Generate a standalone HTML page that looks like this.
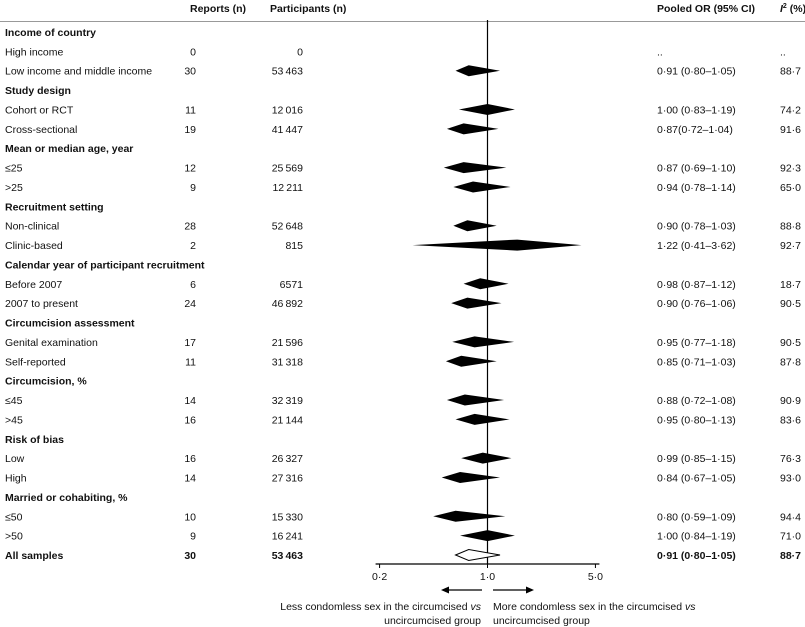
<!DOCTYPE html>
<html><head><meta charset="utf-8">
<style>
html,body{margin:0;padding:0;background:#fff;}
svg{display:block;font-family:"Liberation Sans",sans-serif;}
text{font-size:10.5px;fill:#111;}
.b{font-weight:bold;}
</style></head>
<body>
<svg id="chart" width="805" height="627" viewBox="0 0 805 627"></svg>
<script>
const labels = ["Income of country","High income","Low income and middle income","Study design","Cohort or RCT","Cross-sectional","Mean or median age, year","\u226425",">25","Recruitment setting","Non-clinical","Clinic-based","Calendar year of participant recruitment","Before 2007","2007 to present","Circumcision assessment","Genital examination","Self-reported","Circumcision, %","\u226445",">45","Risk of bias","Low","High","Married or cohabiting, %","\u226450",">50","All samples"];
const isHeading = [1,0,0,1,0,0,1,0,0,1,0,0,1,0,0,1,0,0,1,0,0,1,0,0,1,0,0,2];
const reports = ["","0","30","","11","19","","12","9","","28","2","","6","24","","17","11","","14","16","","16","14","","10","9","30"];
const participants = ["","0","53\u2009463","","12\u2009016","41\u2009447","","25\u2009569","12\u2009211","","52\u2009648","815","","6571","46\u2009892","","21\u2009596","31\u2009318","","32\u2009319","21\u2009144","","26\u2009327","27\u2009316","","15\u2009330","16\u2009241","53\u2009463"];
const orEst = [null,null,0.91,null,1.00,0.87,null,0.87,0.94,null,0.90,1.22,null,0.98,0.90,null,0.95,0.85,null,0.88,0.95,null,0.99,0.84,null,0.80,1.00,0.91];
const orLo  = [null,null,0.80,null,0.83,0.72,null,0.69,0.78,null,0.78,0.41,null,0.87,0.76,null,0.77,0.71,null,0.72,0.80,null,0.85,0.67,null,0.59,0.84,0.80];
const orHi  = [null,null,1.05,null,1.19,1.04,null,1.10,1.14,null,1.03,3.62,null,1.12,1.06,null,1.18,1.03,null,1.08,1.13,null,1.15,1.05,null,1.09,1.19,1.05];
const orText = ["","..","0\u00b791 (0\u00b780\u20131\u00b705)","","1\u00b700 (0\u00b783\u20131\u00b719)","0\u00b787(0\u00b772\u20131\u00b704)","","0\u00b787 (0\u00b769\u20131\u00b710)","0\u00b794 (0\u00b778\u20131\u00b714)","","0\u00b790 (0\u00b778\u20131\u00b703)","1\u00b722 (0\u00b741\u20133\u00b762)","","0\u00b798 (0\u00b787\u20131\u00b712)","0\u00b790 (0\u00b776\u20131\u00b706)","","0\u00b795 (0\u00b777\u20131\u00b718)","0\u00b785 (0\u00b771\u20131\u00b703)","","0\u00b788 (0\u00b772\u20131\u00b708)","0\u00b795 (0\u00b780\u20131\u00b713)","","0\u00b799 (0\u00b785\u20131\u00b715)","0\u00b784 (0\u00b767\u20131\u00b705)","","0\u00b780 (0\u00b759\u20131\u00b709)","1\u00b700 (0\u00b784\u20131\u00b719)","0\u00b791 (0\u00b780\u20131\u00b705)"];
const i2Text = ["","..","88\u00b77","","74\u00b72","91\u00b76","","92\u00b73","65\u00b70","","88\u00b78","92\u00b77","","18\u00b77","90\u00b75","","90\u00b75","87\u00b78","","90\u00b79","83\u00b76","","76\u00b73","93\u00b70","","94\u00b74","71\u00b70","88\u00b77"];
const tickVals = [0.2,1.0,5.0];
const tickLabels = ["0\u00b72","1\u00b70","5\u00b70"];

const svg = document.getElementById('chart');
const NS = 'http://www.w3.org/2000/svg';
function mk(tag, attrs, txt){const e=document.createElementNS(NS,tag);for(const k in attrs)e.setAttribute(k,attrs[k]);if(txt!==undefined)e.textContent=txt;svg.appendChild(e);return e;}
const X0 = 487.5, K = 80.5, P = 0.616;
function xScale(v){const l=Math.log(v);return X0+Math.sign(l)*K*Math.pow(Math.abs(l),P);}
function yRow(i){return 32+i*19.37;}

let e;
e=mk('text',{x:190,y:12,class:'b'},'Reports (n)');


e=mk('text',{x:270,y:12,class:'b'},'Participants (n)');


e=mk('text',{x:657,y:12,class:'b'},'Pooled OR (95% CI)');


e=mk('text',{x:780,y:12,class:'b'});
e.innerHTML='<tspan font-style="italic">I</tspan><tspan dy="-4" font-size="7">2</tspan><tspan dy="4"> (%)</tspan>';


e=mk('line',{x1:0,y1:21.5,x2:805,y2:21.5,stroke:'#999','stroke-width':1});



e=mk('line',{x1:X0,y1:20,x2:X0,y2:564,stroke:'#000','stroke-width':1.2});



for(let i=0;i<labels.length;i++){
  const y=yRow(i), bl=y+4;
  const bold = isHeading[i]>0;
  e=mk('text',{x:5,y:bl,class:bold?'b':''},labels[i]);
  
  
  if(reports[i]){e=mk('text',{x:196,y:bl,'text-anchor':'end',class:isHeading[i]==2?'b':''},reports[i]);
  
  }
  if(participants[i]){e=mk('text',{x:303,y:bl,'text-anchor':'end',class:isHeading[i]==2?'b':''},participants[i]);
  
  }
  if(orText[i]){e=mk('text',{x:657,y:bl,class:isHeading[i]==2?'b':''},orText[i]);
  
  }
  if(i2Text[i]){e=mk('text',{x:780,y:bl,class:isHeading[i]==2?'b':''},i2Text[i]);
  
  }
  if(orEst[i]!==null){
    const xc=xScale(orEst[i]), xl=xScale(orLo[i]), xr=xScale(orHi[i]);
    const pts=`${xl},${y} ${xc},${y-5.5} ${xr},${y} ${xc},${y+5.5}`;
    if(isHeading[i]==2){e=mk('polygon',{points:pts,fill:'#fff',stroke:'#000','stroke-width':1});}
    else{e=mk('polygon',{points:pts,fill:'#000'});}
    
    
  }
}

e=mk('line',{x1:xScale(tickVals[0])-4,y1:564,x2:xScale(tickVals[2])+4,y2:564,stroke:'#000','stroke-width':1.2});


for(let t=0;t<tickVals.length;t++){
  const x=xScale(tickVals[t]);
  e=mk('line',{x1:x,y1:564,x2:x,y2:568,stroke:'#000','stroke-width':1});
  
  
  e=mk('text',{x:x,y:580,'text-anchor':'middle','font-size':'10'},tickLabels[t]);
  
  
}
e=mk('line',{x1:482,y1:590,x2:448,y2:590,stroke:'#000','stroke-width':1.3});


e=mk('polygon',{points:'441,590 449,586.5 449,593.5',fill:'#000'});


e=mk('line',{x1:493,y1:590,x2:527,y2:590,stroke:'#000','stroke-width':1.3});


e=mk('polygon',{points:'534,590 526,586.5 526,593.5',fill:'#000'});


e=mk('text',{x:481,y:610,'text-anchor':'end','font-size':'10.5'});
e.innerHTML='Less condomless sex in the circumcised <tspan font-style="italic">vs</tspan>';


e=mk('text',{x:481,y:624,'text-anchor':'end','font-size':'10.5'},'uncircumcised group');


e=mk('text',{x:493,y:610,'font-size':'10.5'});
e.innerHTML='More condomless sex in the circumcised <tspan font-style="italic">vs</tspan>';


e=mk('text',{x:493,y:624,'font-size':'10.5'},'uncircumcised group');


</script>
</body></html>
